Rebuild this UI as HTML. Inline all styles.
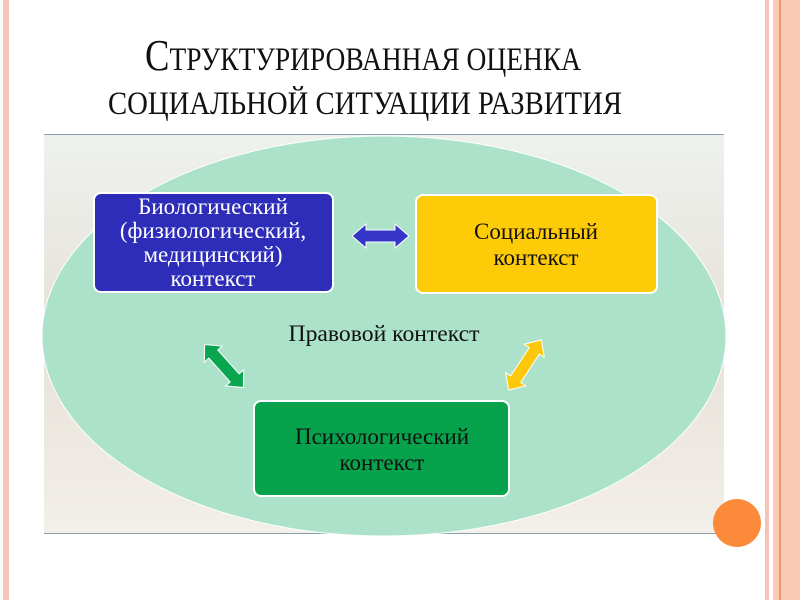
<!DOCTYPE html>
<html><head><meta charset="utf-8"><style>
html,body{margin:0;padding:0;width:800px;height:600px;overflow:hidden;background:#fff}
</style></head><body>
<svg width="800" height="600" viewBox="0 0 800 600" xmlns="http://www.w3.org/2000/svg" style="display:block">
<defs>
<linearGradient id="bg" x1="0" y1="0" x2="0" y2="1">
<stop offset="0" stop-color="#eef1ee"/><stop offset="0.5" stop-color="#e6e1d8"/><stop offset="1" stop-color="#f3efe9"/>
</linearGradient>
</defs>
<rect x="3" y="0" width="6" height="600" fill="#f6c7b8"/>
<rect x="765" y="0" width="4" height="600" fill="#f6c3b4"/>
<rect x="773" y="0" width="27" height="600" fill="#fcc9b6"/>
<rect x="779" y="0" width="2" height="600" fill="#e79d70"/>
<g font-family="Liberation Serif, serif" fill="#111">
<text x="145" y="70" font-size="44" textLength="436" lengthAdjust="spacingAndGlyphs">С<tspan font-size="33">ТРУКТУРИРОВАННАЯ ОЦЕНКА</tspan></text>
<text x="108" y="114" font-size="33" textLength="514" lengthAdjust="spacingAndGlyphs">СОЦИАЛЬНОЙ СИТУАЦИИ РАЗВИТИЯ</text>
</g>
<rect x="44" y="135" width="680" height="398" fill="url(#bg)"/>
<line x1="44" y1="134.5" x2="724" y2="134.5" stroke="#8aa0b0" stroke-width="1"/>
<line x1="44" y1="533.5" x2="724" y2="533.5" stroke="#8aa0b0" stroke-width="1"/>
<ellipse cx="384" cy="336" rx="342" ry="200" fill="#ace2ca" stroke="#fff" stroke-width="1"/>
<circle cx="737" cy="523" r="24" fill="#fb8a3a"/>
<rect x="94" y="193" width="239" height="99" rx="7" fill="#2e2db9" stroke="#fff" stroke-width="2"/>
<rect x="416" y="195" width="241" height="98" rx="7" fill="#fdcb07" stroke="#fff" stroke-width="2"/>
<rect x="254" y="401" width="255" height="95" rx="7" fill="#06a24c" stroke="#fff" stroke-width="2"/>
<g font-family="Liberation Serif, serif" font-size="23" text-anchor="middle">
<text fill="#fff"><tspan x="213" y="214">Биологический</tspan><tspan x="213" y="238">(физиологический,</tspan><tspan x="213" y="262">медицинский)</tspan><tspan x="213" y="286">контекст</tspan></text>
<text fill="#111"><tspan x="536" y="239">Социальный</tspan><tspan x="536" y="265">контекст</tspan></text>
<text fill="#111"><tspan x="382" y="444">Психологический</tspan><tspan x="382" y="470">контекст</tspan></text>
<text fill="#111" x="384" y="341" textLength="191" lengthAdjust="spacingAndGlyphs">Правовой контекст</text>
</g>
<polygon points="352,236 366,224 366,230 395,230 395,224 409,236 395,248 395,242 366,242 366,248" fill="#3535c8" stroke="#fff" stroke-width="1"/>
<g transform="translate(224,366) rotate(48)">
<polygon points="-29,0 -16,-12 -16,-6 16,-6 16,-12 29,0 16,12 16,6 -16,6 -16,12" fill="#09a54f" stroke="#fff" stroke-width="1"/>
</g>
<g transform="translate(525,365) rotate(-57)">
<polygon points="-30,0 -17,-12 -17,-6 17,-6 17,-12 30,0 17,12 17,6 -17,6 -17,12" fill="#fdc70c" stroke="#fff" stroke-width="1"/>
</g>
</svg>
</body></html>
